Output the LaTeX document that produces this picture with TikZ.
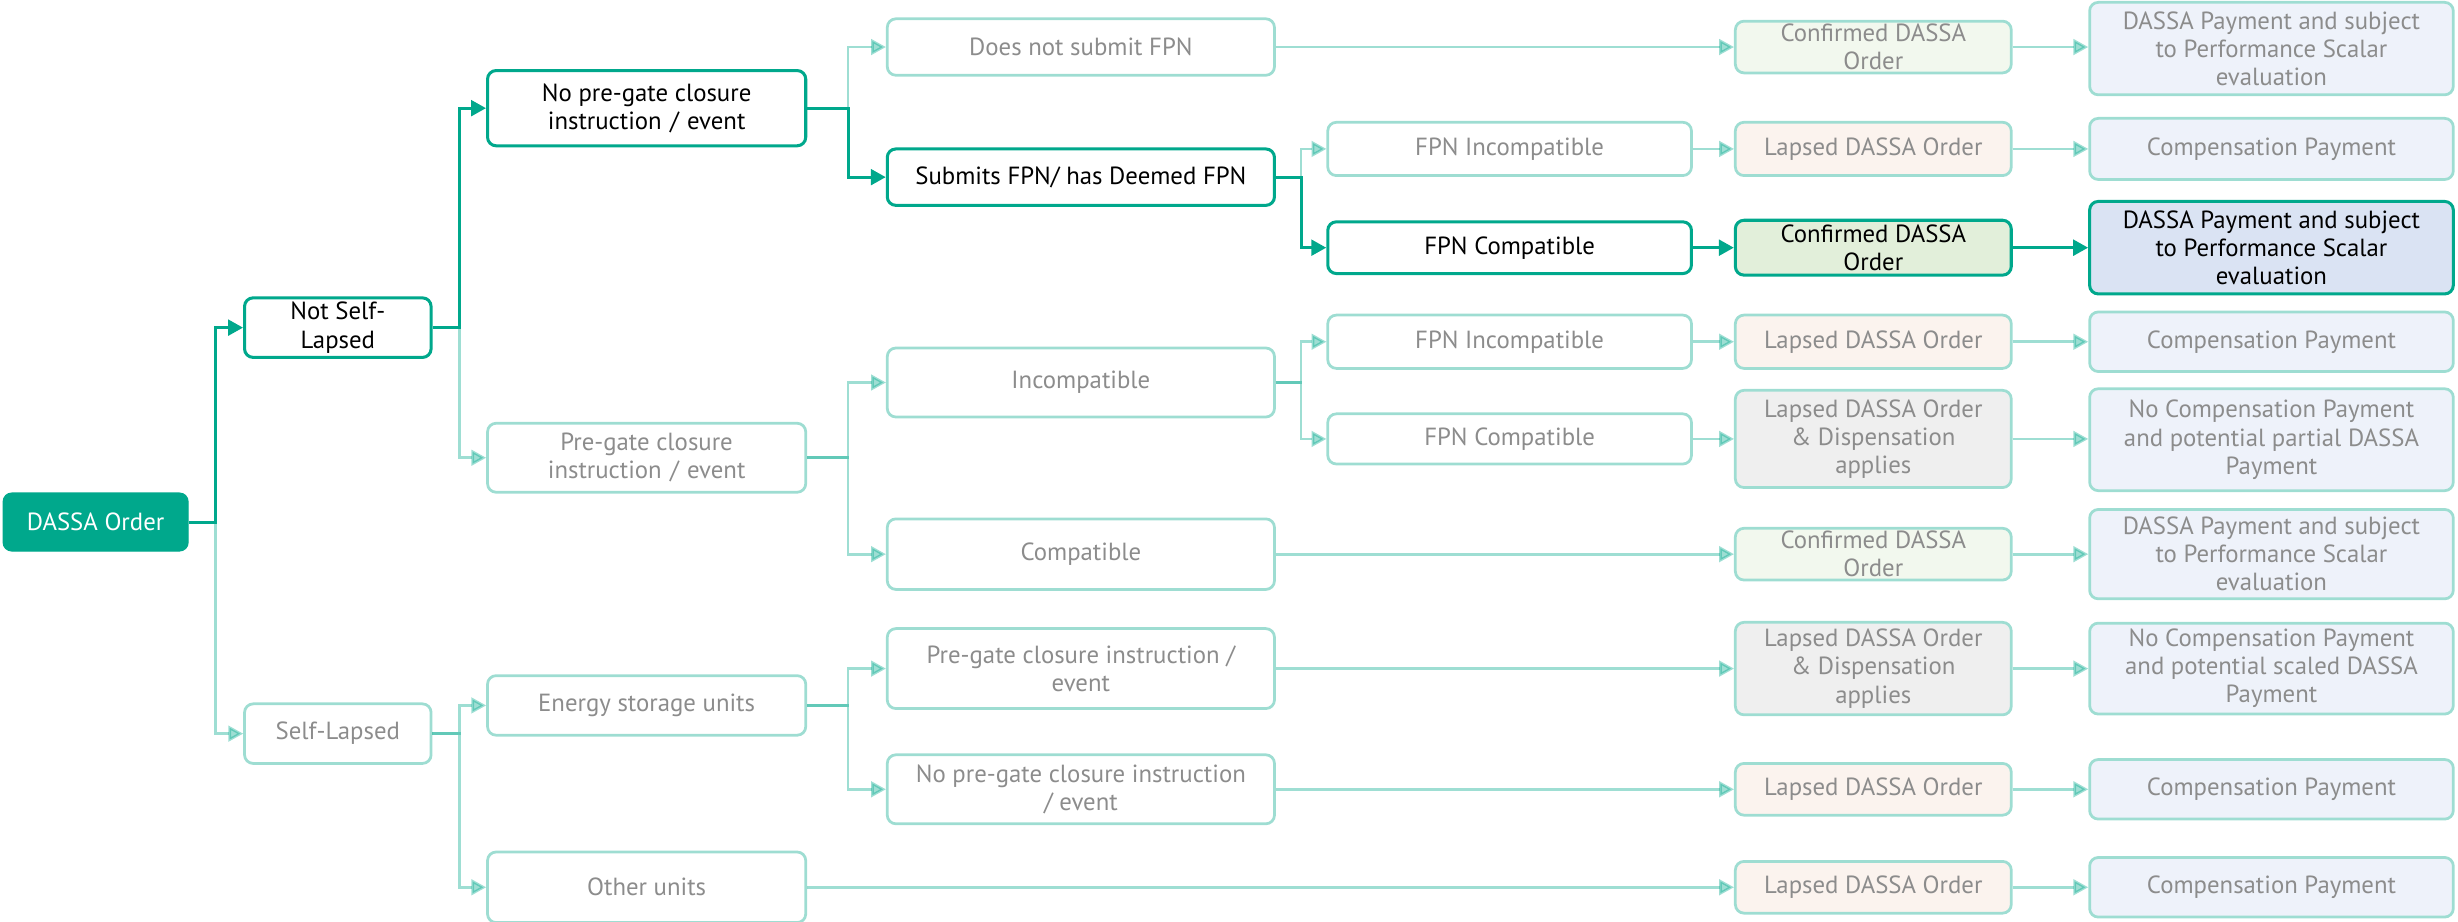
\documentclass[tikz,border=0pt]{standalone}
\usepackage{fontspec}
\setmainfont{PT Sans}
\usetikzlibrary{positioning, arrows.meta, calc}
\definecolor{dassateal}{HTML}{00A88C}
\definecolor{dassapale}{HTML}{9EDDD2}
\definecolor{dassagrey}{HTML}{8C8C8C}
\definecolor{confpale}{HTML}{F2F8EE}
\definecolor{confon}{HTML}{E2EFDA}
\definecolor{lapsepale}{HTML}{FBF3EE}
\definecolor{disppale}{HTML}{EFEFEF}
\definecolor{paypale}{HTML}{EEF2FA}
\definecolor{payon}{HTML}{DAE3F3}

\tikzset{
  box/.style={rounded corners=1.1mm, align=center, inner xsep=2pt, inner ysep=1pt,
              font=\fontsize{9}{10.2}\selectfont},
  livebox/.style={box, draw=dassateal, line width=1.1pt, text=black},
  palebox/.style={box, draw=dassapale, line width=1pt, text=dassagrey},
  liveline/.style={draw=dassateal, line width=1.1pt, -{Triangle[length=1.9mm, width=2mm]}},
  paleline/.style={draw=dassateal, opacity=0.38, line width=1pt, -{Triangle[length=1.9mm, width=2mm]}},
}

\begin{document}
\begin{tikzpicture}[x=0.2mm, y=-0.2mm]
  \useasboundingbox (0,0) rectangle (1568,588);

  % root and first split
  \node[box, fill=dassateal, draw=dassateal, text=white, minimum width=23.6mm, minimum height=7.4mm] (dassa) at (61,333) {DASSA Order};
  \node[livebox, minimum width=23.8mm, minimum height=7.6mm] (notself) at (215.5,209) {Not Self-\\Lapsed};
  \node[palebox, minimum width=23.8mm, minimum height=7.6mm] (selfl) at (215.5,468) {Self-Lapsed};

  % second level
  \node[livebox, minimum width=40.6mm, minimum height=9.6mm] (nopre) at (412.5,69) {No pre-gate closure\\instruction\,\,/\,\,event};
  \node[palebox, minimum width=40.6mm, minimum height=8.8mm] (pregate) at (412.5,292) {Pre-gate closure\\instruction\,\,/\,\,event};
  \node[palebox, minimum width=40.6mm, minimum height=7.6mm] (energy) at (412.5,450) {Energy storage units};
  \node[palebox, minimum width=40.6mm, minimum height=9mm] (other) at (412.5,566) {Other units};

  % third level
  \node[palebox, minimum width=49.4mm, minimum height=7.2mm] (nofpn) at (689.5,30) {Does not submit FPN};
  \node[livebox, minimum width=49.4mm, minimum height=7.2mm] (fpn) at (689.5,113) {Submits FPN/ has Deemed FPN};
  \node[palebox, minimum width=49.4mm, minimum height=8.8mm] (incomp) at (689.5,244) {Incompatible};
  \node[palebox, minimum width=49.4mm, minimum height=9mm] (comp) at (689.5,353.5) {Compatible};
  \node[palebox, minimum width=49.4mm, minimum height=10.2mm] (espre) at (689.5,426.5) {Pre-gate closure instruction /\\event};
  \node[palebox, minimum width=49.4mm, minimum height=8.8mm] (esnopre) at (689.5,503.5) {No pre-gate closure instruction\\/ event};

  % fourth level
  \node[palebox, minimum width=46.4mm, minimum height=6.8mm] (fpninc) at (963,95) {FPN Incompatible};
  \node[livebox, minimum width=46.4mm, minimum height=6.6mm] (fpncomp) at (963,158) {FPN Compatible};
  \node[palebox, minimum width=46.4mm, minimum height=6.8mm] (pgfpninc) at (963,218) {FPN Incompatible};
  \node[palebox, minimum width=46.4mm, minimum height=6.4mm] (pgfpncomp) at (963,280) {FPN Compatible};

  % outcome: DASSA Order status
  \node[palebox, fill=confpale, minimum width=35.2mm, minimum height=6.6mm] (conf1) at (1195,30) {Confirmed DASSA\\Order};
  \node[palebox, fill=lapsepale, minimum width=35.2mm, minimum height=6.8mm] (lap1) at (1195,95) {Lapsed DASSA Order};
  \node[livebox, fill=confon, minimum width=35.2mm, minimum height=7mm] (conf2) at (1195,158) {Confirmed DASSA\\Order};
  \node[palebox, fill=lapsepale, minimum width=35.2mm, minimum height=6.8mm] (lap2) at (1195,218) {Lapsed DASSA Order};
  \node[palebox, fill=disppale, minimum width=35.2mm, minimum height=12.4mm] (disp1) at (1195,280) {Lapsed DASSA Order\\\& Dispensation\\applies};
  \node[palebox, fill=confpale, minimum width=35.2mm, minimum height=6.6mm] (conf3) at (1195,353.5) {Confirmed DASSA\\Order};
  \node[palebox, fill=disppale, minimum width=35.2mm, minimum height=11.8mm] (disp2) at (1195,426.5) {Lapsed DASSA Order\\\& Dispensation\\applies};
  \node[palebox, fill=lapsepale, minimum width=35.2mm, minimum height=6.6mm] (lap3) at (1195,503.5) {Lapsed DASSA Order};
  \node[palebox, fill=lapsepale, minimum width=35.2mm, minimum height=6.6mm] (lap4) at (1195,566) {Lapsed DASSA Order};

  % outcome: payment
  \node[palebox, fill=paypale, minimum width=46.4mm, minimum height=11.8mm] (pay1) at (1449,31) {DASSA Payment and subject\\to Performance Scalar\\evaluation};
  \node[palebox, fill=paypale, minimum width=46.4mm, minimum height=7.8mm] (comp1) at (1449,95) {Compensation Payment};
  \node[livebox, fill=payon, minimum width=46.4mm, minimum height=11.8mm] (pay2) at (1449,158) {DASSA Payment and subject\\to Performance Scalar\\evaluation};
  \node[palebox, fill=paypale, minimum width=46.4mm, minimum height=7.6mm] (comp2) at (1449,218) {Compensation Payment};
  \node[palebox, fill=paypale, minimum width=46.4mm, minimum height=13mm] (nocomp1) at (1449,280.5) {No Compensation Payment\\and potential partial DASSA\\Payment};
  \node[palebox, fill=paypale, minimum width=46.4mm, minimum height=11.4mm] (pay3) at (1449,353.5) {DASSA Payment and subject\\to Performance Scalar\\evaluation};
  \node[palebox, fill=paypale, minimum width=46.4mm, minimum height=11.6mm] (nocomp2) at (1449,426.5) {No Compensation Payment\\and potential scaled DASSA\\Payment};
  \node[palebox, fill=paypale, minimum width=46.4mm, minimum height=7.6mm] (comp3) at (1449,503.5) {Compensation Payment};
  \node[palebox, fill=paypale, minimum width=46.4mm, minimum height=7.6mm] (comp4) at (1449,566) {Compensation Payment};

  % faded branches (elbows)
  \foreach \from/\to/\dx in {dassa/selfl/17, notself/pregate/17, nopre/nofpn/26, fpn/fpninc/16,
                             pregate/incomp/26, pregate/comp/26, incomp/pgfpninc/16, incomp/pgfpncomp/16,
                             selfl/energy/17, selfl/other/17, energy/espre/26, energy/esnopre/26}
    \draw[paleline] (\from.east) -- ++(\dx,0) |- (\to.west);

  % faded branches (straight)
  \foreach \from/\to in {nofpn/conf1, conf1/pay1, fpninc/lap1, lap1/comp1, pgfpninc/lap2, lap2/comp2,
                         pgfpncomp/disp1, disp1/nocomp1, comp/conf3, conf3/pay3, espre/disp2, disp2/nocomp2,
                         esnopre/lap3, lap3/comp3, other/lap4, lap4/comp4}
    \draw[paleline] (\from.east) -- (\to.west |- \from.east);

  % highlighted path
  \foreach \from/\to/\dx in {dassa/notself/17, notself/nopre/17, nopre/fpn/26, fpn/fpncomp/16}
    \draw[liveline] (\from.east) -- ++(\dx,0) |- (\to.west);
  \foreach \from/\to in {fpncomp/conf2, conf2/pay2}
    \draw[liveline] (\from.east) -- (\to.west |- \from.east);
\end{tikzpicture}
\end{document}
